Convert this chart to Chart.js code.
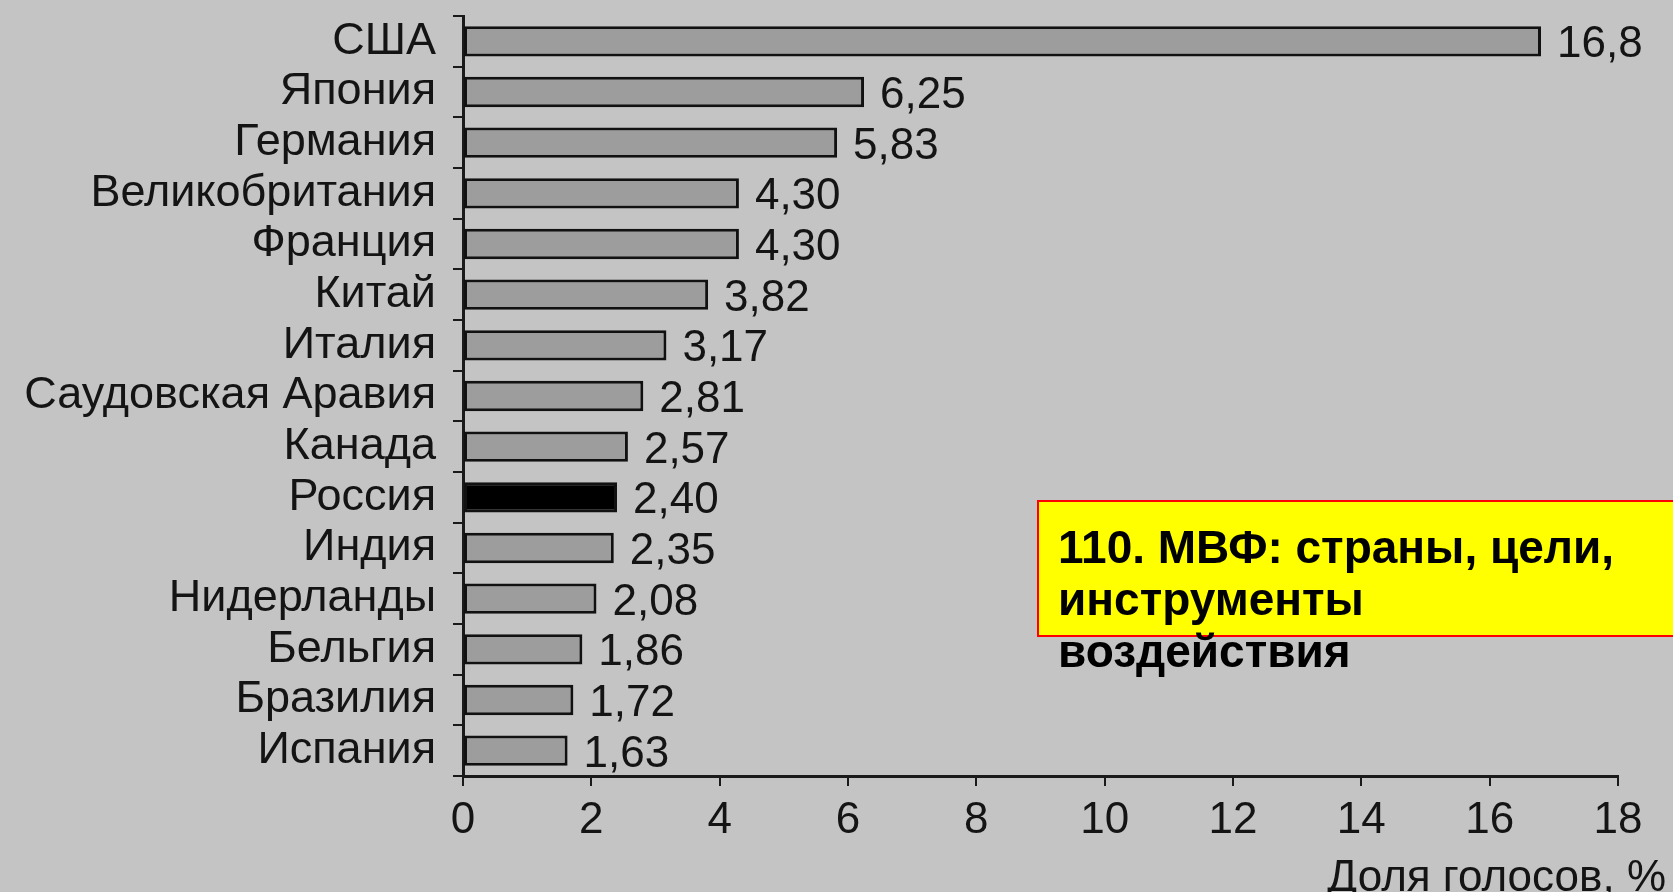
<!DOCTYPE html>
<html lang="ru">
<head>
<meta charset="utf-8">
<title>МВФ: доля голосов</title>
<script src="https://cdn.jsdelivr.net/npm/chart.js@4/dist/chart.umd.min.js"></script>
<style>
  html, body { margin: 0; padding: 0; background: #c4c4c4; }
  #wrap { position: relative; width: 1673px; height: 892px; overflow: hidden; background: #c4c4c4; }
  #chart { position: absolute; left: 0; top: 0; }
  #caption {
    position: absolute; left: 1037px; top: 500px; width: 660px; height: 137px;
    box-sizing: border-box;
    background: #ffff00; border: 2px solid #ff0000;
    padding: 19px 0 0 19px;
    font: bold 46px "Liberation Sans", Arial, sans-serif; line-height: 52px;
    color: #000; overflow: visible; white-space: nowrap;
  }
</style>
</head>
<body>
<div id="wrap">
  <canvas id="chart" width="1673" height="892"></canvas>
  <div id="caption">110. МВФ: страны, цели,<br>инструменты<br>воздействия</div>
</div>
<script>
// Countries, top to bottom
const countries = ['США', 'Япония', 'Германия', 'Великобритания', 'Франция', 'Китай', 'Италия',
  'Саудовская Аравия', 'Канада', 'Россия', 'Индия', 'Нидерланды', 'Бельгия', 'Бразилия', 'Испания'];
// Share of votes, %
const voteShare = [16.8, 6.25, 5.83, 4.30, 4.30, 3.82, 3.17, 2.81, 2.57, 2.40, 2.35, 2.08, 1.86, 1.72, 1.63];
// Decimal places shown in the value labels
const labelDecimals = [1, 2, 2, 2, 2, 2, 2, 2, 2, 2, 2, 2, 2, 2, 2];
// Axis ticks and title
const xTicks = [0, 2, 4, 6, 8, 10, 12, 14, 16, 18];
const xTitle = 'Доля голосов, %';
const highlighted = 'Россия';

const FONT = '"Liberation Sans", Arial, sans-serif';
const INK = '#141414';

const valueLabels = {
  id: 'valueLabels',
  afterDatasetsDraw(chart) {
    const ctx = chart.ctx;
    const meta = chart.getDatasetMeta(0);
    ctx.save();
    ctx.font = '44px ' + FONT;
    ctx.fillStyle = INK;
    ctx.textAlign = 'left';
    ctx.textBaseline = 'middle';
    meta.data.forEach((bar, i) => {
      const txt = voteShare[i].toFixed(labelDecimals[i]).replace('.', ',');
      ctx.fillText(txt, bar.x + 16, bar.y + 4);
    });
    ctx.restore();
  }
};

const axisTitle = {
  id: 'axisTitle',
  afterDraw(chart) {
    const ctx = chart.ctx;
    ctx.save();
    ctx.font = '44px ' + FONT;
    ctx.fillStyle = INK;
    ctx.textAlign = 'right';
    ctx.textBaseline = 'alphabetic';
    ctx.fillText(xTitle, 1666, 891);
    ctx.restore();
  }
};

new Chart(document.getElementById('chart'), {
  type: 'bar',
  data: {
    labels: countries,
    datasets: [{
      data: voteShare,
      backgroundColor: countries.map(c => c === highlighted ? '#000000' : '#9d9d9d'),
      borderColor: '#111111',
      borderWidth: 3,
      borderSkipped: false,
      barPercentage: 0.6,
      categoryPercentage: 1.0
    }]
  },
  options: {
    indexAxis: 'y',
    responsive: false,
    animation: false,
    devicePixelRatio: 1,
    layout: { padding: { top: 16, right: 55, left: 0, bottom: 0 } },
    plugins: { legend: { display: false }, tooltip: { enabled: false } },
    scales: {
      x: {
        min: 0, max: 18,
        afterBuildTicks(scale) { scale.ticks = xTicks.map(v => ({ value: v })); },
        afterFit(scale) { scale.height = 116; scale.paddingLeft = 0; scale.paddingRight = 0; },
        border: { display: true, color: '#1a1a1a', width: 3 },
        grid: { drawOnChartArea: false, drawTicks: true, tickLength: 10, color: '#1a1a1a', lineWidth: 2 },
        ticks: { color: INK, font: { family: FONT, size: 44 }, padding: 8, maxRotation: 0 }
      },
      y: {
        afterFit(scale) { scale.width = 463; scale.paddingTop = 0; scale.paddingBottom = 0; },
        border: { display: true, color: '#1a1a1a', width: 3 },
        grid: { drawOnChartArea: false, drawTicks: true, tickLength: 10, color: '#1a1a1a', lineWidth: 2, offset: true },
        ticks: { color: INK, font: { family: FONT, size: 45 }, padding: 17, autoSkip: false }
      }
    }
  },
  plugins: [valueLabels, axisTitle]
});
</script>
</body>
</html>
